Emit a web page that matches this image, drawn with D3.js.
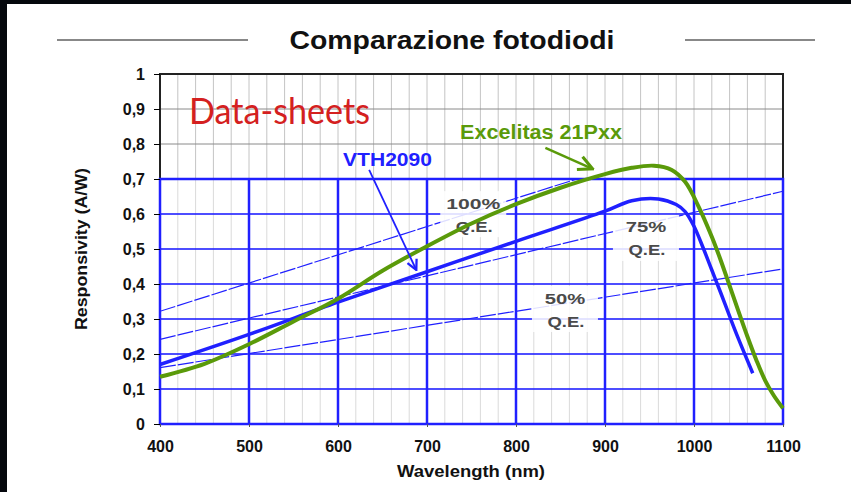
<!DOCTYPE html>
<html>
<head>
<meta charset="utf-8">
<script src="https://cdn.jsdelivr.net/npm/d3@7"></script>
<style>
  body { margin: 0; background: #05080d; }
  svg { display: block; }
  text { font-family: "Liberation Sans", Arial, sans-serif; }
</style>
</head>
<body>
<div id="chart"></div>
<script>
// curves
var excelitasNm   = [400, 450, 500, 550, 600, 650, 700, 750, 800, 850, 900, 930, 955, 975, 990, 1005, 1020, 1030, 1040, 1050, 1060, 1070, 1080, 1090, 1100];
var excelitasResp = [0.135, 0.172, 0.228, 0.293, 0.358, 0.438, 0.508, 0.573, 0.628, 0.675, 0.714, 0.732, 0.738, 0.726, 0.692, 0.622, 0.535, 0.468, 0.395, 0.322, 0.25, 0.183, 0.124, 0.08, 0.045];

var vthNm   = [400, 500, 600, 700, 800, 900, 930, 960, 980, 990, 1000, 1010, 1020, 1030, 1040, 1050, 1066];
var vthResp = [0.17, 0.256, 0.348, 0.435, 0.522, 0.608, 0.638, 0.643, 0.627, 0.607, 0.565, 0.505, 0.44, 0.375, 0.308, 0.243, 0.145];

// quantum efficiency reference lines (value at 400 nm and at 1100 nm)
var qeLabels = ["100%", "75%", "50%"];
var qeStart  = [0.322, 0.242, 0.161];
var qeEnd    = [0.887, 0.665, 0.443];
var qeLabelNm   = [752, 946, 855];
var qeLabelResp = [0.631, 0.563, 0.36];

var xTicks = [400, 500, 600, 700, 800, 900, 1000, 1100];
var yTicks = [0, 0.1, 0.2, 0.3, 0.4, 0.5, 0.6, 0.7, 0.8, 0.9, 1];
var yTickLabels = ["0", "0,1", "0,2", "0,3", "0,4", "0,5", "0,6", "0,7", "0,8", "0,9", "1"];

var width = 851, height = 492;
var blue = "#2020ff", green = "#5a9a0a";

var svg = d3.select("#chart").append("svg")
    .attr("width", width)
    .attr("height", height);

// slide background (black edge top/left)
svg.append("rect").attr("x", 7).attr("y", 4).attr("width", width - 7).attr("height", height - 4).attr("fill", "#fff");

var x = d3.scaleLinear().domain([400, 1100]).range([160, 783]);
var y = d3.scaleLinear().domain([0, 1]).range([424, 74]);

var defs = svg.append("defs");
defs.append("clipPath").attr("id", "lowClip")
    .append("rect")
    .attr("x", x(400)).attr("y", y(0.7))
    .attr("width", x(1100) - x(400)).attr("height", y(0) - y(0.7));

function marker(id, col) {
    defs.append("marker")
        .attr("id", id)
        .attr("viewBox", "0 0 10 10")
        .attr("refX", 9).attr("refY", 5)
        .attr("markerWidth", 7).attr("markerHeight", 7)
        .attr("orient", "auto")
        .append("path")
        .attr("d", "M1,1 L9,5 L1,9")
        .attr("fill", "none")
        .attr("stroke", col)
        .attr("stroke-width", 1.8);
}
marker("arrBlue", blue);
marker("arrGreen", green);

// title
svg.append("text")
    .attr("x", 452).attr("y", 49)
    .attr("text-anchor", "middle")
    .attr("font-size", 25).attr("font-weight", "bold")
    .attr("textLength", 325).attr("lengthAdjust", "spacingAndGlyphs")
    .attr("fill", "#111")
    .text("Comparazione fotodiodi");
svg.append("line").attr("x1", 57).attr("x2", 248).attr("y1", 40).attr("y2", 40).attr("stroke", "#888").attr("stroke-width", 2);
svg.append("line").attr("x1", 685).attr("x2", 815).attr("y1", 40).attr("y2", 40).attr("stroke", "#888").attr("stroke-width", 2);

// grid
var minor = d3.range(420, 1100, 20);
var grid = svg.append("g");
grid.selectAll(".vmin").data(minor).enter().append("line")
    .attr("x1", function(d) { return x(d); }).attr("x2", function(d) { return x(d); })
    .attr("y1", y(1)).attr("y2", y(0.7))
    .attr("stroke", "#c4c4c4").attr("stroke-width", 1);
grid.selectAll(".vminlow").data(minor.filter(function(d) { return d % 100 != 0; })).enter().append("line")
    .attr("x1", function(d) { return x(d); }).attr("x2", function(d) { return x(d); })
    .attr("y1", y(0.7)).attr("y2", y(0))
    .attr("stroke", "#dadada").attr("stroke-width", 1);
grid.selectAll(".hup").data([0.8, 0.9]).enter().append("line")
    .attr("x1", x(400)).attr("x2", x(1100))
    .attr("y1", function(d) { return y(d); }).attr("y2", function(d) { return y(d); })
    .attr("stroke", "#8a8a8a").attr("stroke-width", 1);
grid.selectAll(".hlow").data([0.1, 0.2, 0.3, 0.4, 0.5, 0.6]).enter().append("line")
    .attr("x1", x(400)).attr("x2", x(1100))
    .attr("y1", function(d) { return y(d); }).attr("y2", function(d) { return y(d); })
    .attr("stroke", blue).attr("stroke-opacity", 0.8).attr("stroke-width", 2);
grid.selectAll(".vmaj").data([500, 600, 700, 800, 900, 1000]).enter().append("line")
    .attr("x1", function(d) { return x(d); }).attr("x2", function(d) { return x(d); })
    .attr("y1", y(0.7)).attr("y2", y(0))
    .attr("stroke", blue).attr("stroke-width", 2.5);

// frame: upper part black, lower part blue
grid.append("path")
    .attr("d", "M" + x(400) + "," + y(0.7) + "V" + y(1) + "H" + x(1100) + "V" + y(0.7))
    .attr("fill", "none").attr("stroke", "#222").attr("stroke-width", 2);
grid.append("rect")
    .attr("x", x(400)).attr("y", y(0.7))
    .attr("width", x(1100) - x(400)).attr("height", y(0) - y(0.7))
    .attr("fill", "none").attr("stroke", blue).attr("stroke-width", 2.5);

// axes
var yAxis = d3.axisLeft(y).tickValues(yTicks)
    .tickFormat(function(d, i) { return yTickLabels[i]; })
    .tickSize(6).tickPadding(9);
var gy = svg.append("g").attr("transform", "translate(" + x(400) + ",0)").call(yAxis);
gy.select(".domain").remove();
gy.selectAll("text").attr("font-size", 16).attr("font-weight", "bold").attr("fill", "#111")
    .style("font-family", "'Liberation Sans', Arial, sans-serif");

var xAxis = d3.axisBottom(x).tickValues(xTicks).tickFormat(d3.format("d")).tickSize(3).tickPadding(14);
var gx = svg.append("g").attr("transform", "translate(0," + y(0) + ")").call(xAxis);
gx.select(".domain").remove();
gx.selectAll("line").attr("stroke", "#555");
gx.selectAll("text").attr("font-size", 16).attr("font-weight", "bold").attr("fill", "#111")
    .style("font-family", "'Liberation Sans', Arial, sans-serif");

svg.append("text")
    .attr("x", 471).attr("y", 477)
    .attr("text-anchor", "middle")
    .attr("font-size", 17).attr("font-weight", "bold")
    .attr("textLength", 148).attr("lengthAdjust", "spacingAndGlyphs")
    .attr("fill", "#111")
    .text("Wavelength (nm)");
svg.append("text")
    .attr("transform", "translate(87,249) rotate(-90)")
    .attr("text-anchor", "middle")
    .attr("font-size", 16).attr("font-weight", "bold")
    .attr("textLength", 162).attr("lengthAdjust", "spacingAndGlyphs")
    .attr("fill", "#111")
    .text("Responsivity (A/W)");

// QE reference lines, clipped to the blue area
var qeG = svg.append("g").attr("clip-path", "url(#lowClip)");
qeLabels.forEach(function(lab, i) {
    qeG.append("line")
        .attr("x1", x(400)).attr("y1", y(qeStart[i]))
        .attr("x2", x(1100)).attr("y2", y(qeEnd[i]))
        .attr("stroke", blue).attr("stroke-width", 1.2)
        .attr("stroke-dasharray", "16,2");
});

qeLabels.forEach(function(lab, i) {
    var cx = x(qeLabelNm[i]), cy = y(qeLabelResp[i]);
    svg.append("rect")
        .attr("x", cx - 33).attr("y", cy - 12)
        .attr("width", 66).attr("height", 46)
        .attr("fill", "#fff").attr("fill-opacity", 0.85);
    svg.append("text")
        .attr("x", cx).attr("y", cy + 5.5)
        .attr("text-anchor", "middle")
        .attr("font-size", 15).attr("font-weight", "bold")
        .attr("textLength", lab.length * 13.5).attr("lengthAdjust", "spacingAndGlyphs")
        .attr("fill", "#4a4a4a")
        .text(lab);
    svg.append("text")
        .attr("x", cx + 1).attr("y", cy + 28.5)
        .attr("text-anchor", "middle")
        .attr("font-size", 15).attr("font-weight", "bold")
        .attr("textLength", 37).attr("lengthAdjust", "spacingAndGlyphs")
        .attr("fill", "#4a4a4a")
        .text("Q.E.");
});

// curves
var line = d3.line()
    .x(function(d) { return x(d[0]); })
    .y(function(d) { return y(d[1]); })
    .curve(d3.curveCatmullRom.alpha(0.5));

svg.append("path")
    .datum(d3.zip(vthNm, vthResp))
    .attr("d", line)
    .attr("fill", "none").attr("stroke", blue).attr("stroke-width", 3.5);

svg.append("path")
    .datum(d3.zip(excelitasNm, excelitasResp))
    .attr("d", line)
    .attr("fill", "none").attr("stroke", green).attr("stroke-width", 4);

// annotations
svg.append("text")
    .attr("x", 343).attr("y", 166)
    .attr("font-size", 18).attr("font-weight", "bold")
    .attr("textLength", 89).attr("lengthAdjust", "spacingAndGlyphs")
    .attr("fill", blue)
    .text("VTH2090");
svg.append("line")
    .attr("x1", x(635)).attr("y1", y(0.726))
    .attr("x2", x(688)).attr("y2", y(0.44))
    .attr("stroke", blue).attr("stroke-width", 1.8)
    .attr("marker-end", "url(#arrBlue)");

svg.append("text")
    .attr("x", 460).attr("y", 139)
    .attr("font-size", 20).attr("font-weight", "bold")
    .attr("textLength", 162).attr("lengthAdjust", "spacingAndGlyphs")
    .attr("fill", green)
    .text("Excelitas 21Pxx");
svg.append("line")
    .attr("x1", x(833)).attr("y1", y(0.789))
    .attr("x2", x(886)).attr("y2", y(0.729))
    .attr("stroke", green).attr("stroke-width", 2.5)
    .attr("marker-end", "url(#arrGreen)");

svg.append("text")
    .attr("x", 189).attr("y", 124)
    .attr("font-size", 36)
    .attr("textLength", 181).attr("lengthAdjust", "spacingAndGlyphs")
    .attr("fill", "#d42020")
    .style("font-family", "Lato, 'DejaVu Sans', sans-serif")
    .text("Data-sheets");
</script>
</body>
</html>
